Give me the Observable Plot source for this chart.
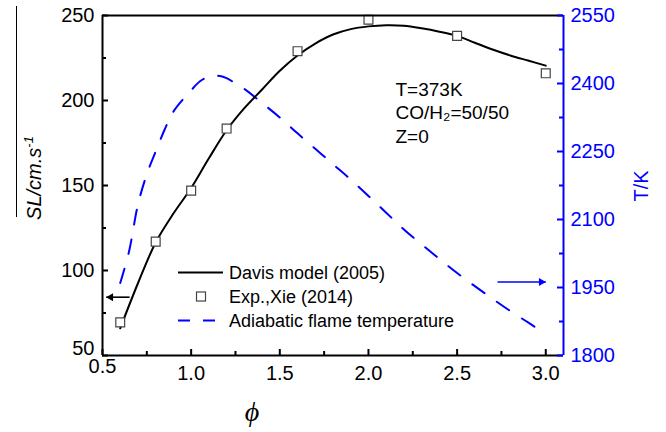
<!DOCTYPE html>
<html><head><meta charset="utf-8">
<script src="https://cdn.jsdelivr.net/npm/d3@7"></script>
<script src="https://cdn.jsdelivr.net/npm/@observablehq/plot@0.6"></script>
<style>body{margin:0;background:#fff}</style>
</head><body><div id="chart"></div>
<script>
// ---- data ----
const phiDavis = [0.6,0.7,0.8,0.9,1.0,1.1,1.2,1.3,1.4,1.5,1.6,1.7,1.8,1.9,2.0,2.1,2.2,2.3,2.4,2.5,2.6,2.7,2.8,2.9,3.0];
const slDavis  = [66,92.5,116.5,133.5,148.5,166,182.5,195.5,206.5,217.5,226.5,233.5,238.8,242,243.6,244.3,244,242.5,240.5,238,234,230,226.5,223.5,220.5];
const phiExp = [0.6,0.8,1.0,1.2,1.6,2.0,2.5,3.0];
const slExp  = [69.5,117,147,183.5,229,247.5,238,216];
const phiTemp = [0.6,0.65,0.7,0.75,0.8,0.85,0.9,1.0,1.05,1.1,1.15,1.2,1.25,1.3,1.4,1.5,1.6,1.7,1.8,1.9,2.0,2.1,2.2,2.3,2.4,2.5,2.6,2.7,2.8,2.9,2.95];
const tempK   = [1960,2030,2133,2200,2250,2298,2338,2385,2405,2415,2417,2412,2400,2388,2357,2325,2290,2256,2222,2188,2152,2115,2078,2045,2013,1982,1953,1925,1898,1873,1860];
const xTicks = [0.5,1.0,1.5,2.0,2.5,3.0];
const xMinor = [0.75,1.25,1.75,2.25,2.75];
const slTicks = [50,100,150,200,250];
const slMinor = [75,125,175,225];
const tempTicks = [1800,1950,2100,2250,2400,2550];
const tempMinor = [1875,2025,2175,2325,2475];
const legendLabels = ["Davis model (2005)","Exp.,Xie (2014)","Adiabatic flame temperature"];
const noteLines = ["T=373K","CO/H₂=50/50","Z=0"];
const arrowLeft = [{x1:0.653, x2:0.521, sl:84.3}];
const arrowRight = [{x1:2.728, x2:3.0, temp:1962}];

// ---- scales / layout ----
const W = 666, H = 432, mL = 102, mR = 103, mT = 15, mB = 77;
const iw = W - mL - mR, ih = H - mT - mB;
const blue = "#0000ff";
const slDomain = [50, 250], tDomain = [1800, 2550];
const tToSl = t => slDomain[0] + (t - tDomain[0]) * (slDomain[1] - slDomain[0]) / (tDomain[1] - tDomain[0]);
const slToT = s => tDomain[0] + (s - slDomain[0]) * (tDomain[1] - tDomain[0]) / (slDomain[1] - slDomain[0]);

const davis = phiDavis.map((x, i) => ({x, y: slDavis[i]}));
const exp = phiExp.map((x, i) => ({x, y: slExp[i]}));
const temp = phiTemp.map((x, i) => ({x, t: tempK[i]}));

const plot = Plot.plot({
  width: W, height: H,
  marginLeft: mL, marginRight: mR, marginTop: mT, marginBottom: mB,
  x: {domain: [0.5, 3.1]},
  y: {domain: slDomain},
  style: {fontFamily: "'Liberation Sans', Arial, sans-serif", background: "white", color: "black", overflow: "visible"},
  marks: [
    Plot.line(temp, {x: "x", y: d => tToSl(d.t), stroke: blue, strokeWidth: 2, strokeDasharray: "15,15", curve: "catmull-rom"}),
    Plot.line(davis, {x: "x", y: "y", stroke: "black", strokeWidth: 2, curve: "catmull-rom"}),
    Plot.dot(exp, {x: "x", y: "y", symbol: "square", r: 5, stroke: "#444", fill: "white", strokeWidth: 1.2}),
    // arrows
    Plot.link(arrowLeft, {x1: "x1", x2: "x2", y1: "sl", y2: "sl", stroke: "black", strokeWidth: 1.6}),
    Plot.dot(arrowLeft, {x: "x2", y: "sl", symbol: "triangle", r: 3, fill: "black", rotate: -90, dx: 4.5}),
    Plot.link(arrowRight, {x1: "x1", x2: "x2", y1: d => tToSl(d.temp), y2: d => tToSl(d.temp), stroke: blue, strokeWidth: 1.6}),
    Plot.dot(arrowRight, {x: "x2", y: d => tToSl(d.temp), symbol: "triangle", r: 3, fill: blue, rotate: 90, dx: -4.5}),
    // frame
    Plot.ruleX([0.5], {stroke: "black", strokeWidth: 2}),
    Plot.ruleY([50], {stroke: "black", strokeWidth: 2}),
    Plot.ruleY([250], {stroke: "black", strokeWidth: 2}),
    Plot.ruleX([3.1], {stroke: blue, strokeWidth: 2}),
    // inward ticks
    Plot.tickX(xTicks, {x: d => d, insetTop: ih - 6, stroke: "black", strokeWidth: 2}),
    Plot.tickX(xMinor, {x: d => d, insetTop: ih - 4, stroke: "black", strokeWidth: 2}),
    Plot.tickY(slTicks, {y: d => d, insetRight: iw - 6, stroke: "black", strokeWidth: 2}),
    Plot.tickY(slMinor, {y: d => d, insetRight: iw - 4, stroke: "black", strokeWidth: 2}),
    Plot.tickY(tempTicks, {y: d => tToSl(d), insetLeft: iw - 6, stroke: blue, strokeWidth: 2}),
    Plot.tickY(tempMinor, {y: d => tToSl(d), insetLeft: iw - 4, stroke: blue, strokeWidth: 2}),
    // tick labels
    Plot.axisX(xTicks.slice(1), {tickSize: 0, tickPadding: 10, fontSize: 20, tickFormat: ".1f", label: null}),
    Plot.axisX(xTicks.slice(0, 1), {tickSize: 0, tickPadding: 3, fontSize: 20, tickFormat: ".1f", label: null}),
    Plot.axisY(slTicks.slice(1), {anchor: "left", tickSize: 0, tickPadding: 8, fontSize: 20, label: null}),
    Plot.axisY(slTicks.slice(0, 1), {anchor: "left", tickSize: 0, tickPadding: 8, fontSize: 20, dy: -7, label: null}),
    Plot.axisY(tempTicks.map(tToSl), {anchor: "right", tickSize: 0, tickPadding: 7, fontSize: 20, fill: blue,
      tickFormat: d => String(Math.round(slToT(d))), label: null}),
    // annotation
    Plot.text([noteLines.join("\n")], {text: d => d, frameAnchor: "top-left", dx: 293, dy: 63,
      lineAnchor: "top", lineHeight: 1.26, fontSize: 19, textAnchor: "start", fill: "black"})
  ]
});

document.getElementById("chart").appendChild(plot);

// ---- legend and axis titles ----
const svg = d3.select(plot);
const font = "'Liberation Sans', Arial, sans-serif";
const lg = svg.append("g").attr("font-family", font).attr("font-size", 18).attr("text-anchor", "start");
const rows = [272.5, 296.5, 320.5];
lg.append("line").attr("x1", 178).attr("x2", 223).attr("y1", rows[0]).attr("y2", rows[0])
  .attr("stroke", "black").attr("stroke-width", 2);
lg.append("rect").attr("x", 196.5).attr("y", rows[1] - 4.5).attr("width", 9).attr("height", 9)
  .attr("fill", "white").attr("stroke", "#444").attr("stroke-width", 1.2);
lg.append("line").attr("x1", 178).attr("x2", 216).attr("y1", rows[2]).attr("y2", rows[2])
  .attr("stroke", blue).attr("stroke-width", 2).attr("stroke-dasharray", "12,13");
legendLabels.forEach((t, i) => {
  lg.append("text").attr("x", 229).attr("y", rows[i] + 6.5).attr("text-anchor", "start").text(t);
});

// left axis title
svg.append("line").attr("x1", 16.5).attr("x2", 16.5).attr("y1", 6).attr("y2", 217)
  .attr("stroke", "black").attr("stroke-width", 1);
const lt = svg.append("text").attr("transform", "translate(41,178) rotate(-90)")
  .attr("text-anchor", "middle").attr("font-family", font).attr("font-size", 20).attr("font-style", "italic");
lt.append("tspan").text("SL/cm.s");
lt.append("tspan").attr("dy", -8).attr("font-size", 13).text("-1");

// right axis title
svg.append("text").attr("transform", "translate(648,186) rotate(-90)")
  .attr("text-anchor", "middle").attr("font-family", font).attr("font-size", 20).attr("fill", blue).text("T/K");

// x axis title
svg.append("text").attr("x", 252).attr("y", 421).attr("text-anchor", "middle")
  .attr("font-family", "'Liberation Serif', 'DejaVu Serif', serif").attr("font-size", 28).attr("font-style", "italic").text("ϕ");
</script>
</body></html>
